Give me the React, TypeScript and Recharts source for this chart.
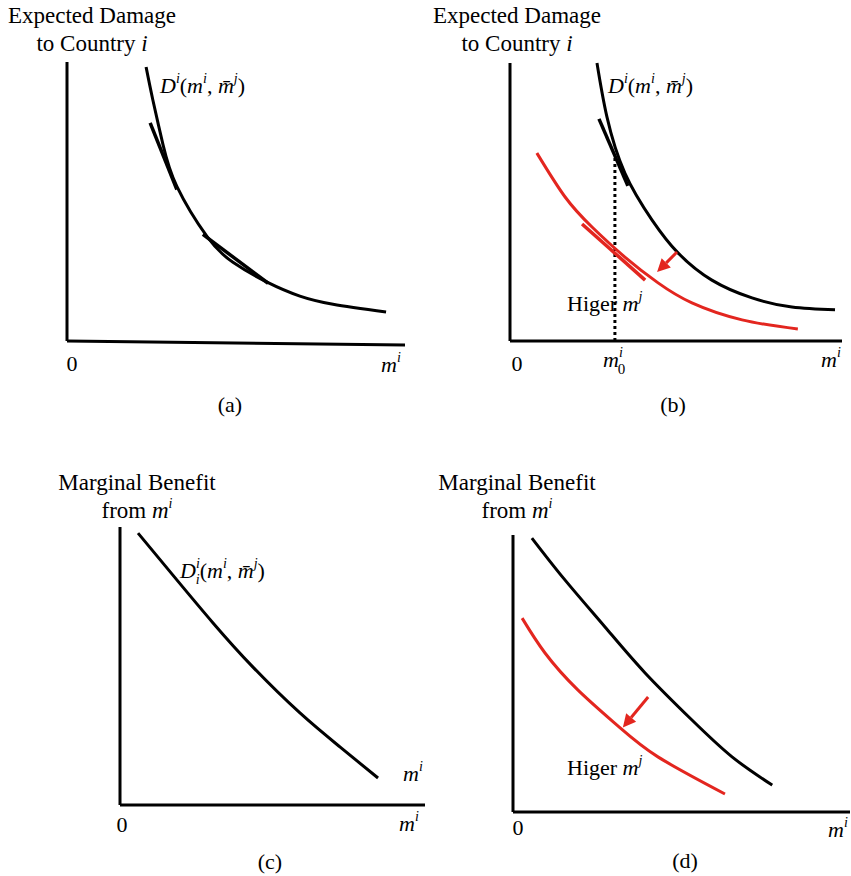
import React from "react";
import { LineChart, Line, XAxis, YAxis, ReferenceLine } from "recharts";

// all panels use the same 0..10 box on both axes

// (a) expected damage curve
const damageAX = [2.34, 2.54, 2.84, 3.25, 4.14, 4.91, 5.92, 6.89, 7.87, 9.44];
const damageAY = [9.82, 8.64, 7.04, 5.54, 3.75, 2.82, 2.11, 1.61, 1.32, 1.04];
// (a) two tangents [x1, y1, x2, y2]
const tangentA1 = [2.46, 7.82, 3.25, 5.43];
const tangentA2 = [4.02, 3.82, 5.95, 2.07];
const axisTiltA = -0.14;

// (b) baseline damage and shifted damage
const damageBX = [2.62, 2.92, 3.46, 4.28, 5.06, 6.08, 7.29, 8.49, 9.79];
const damageBY = [10.0, 8.06, 6.04, 4.35, 3.17, 2.19, 1.55, 1.22, 1.12];
const shiftedBX = [0.81, 1.66, 2.47, 3.46, 4.46, 5.48, 6.99, 8.67];
const shiftedBY = [6.76, 5.18, 4.1, 3.02, 2.09, 1.37, 0.76, 0.43];
const tangentB1 = [2.68, 7.99, 3.55, 5.58];
const tangentB2 = [2.17, 4.21, 4.07, 2.19];
const m0 = 3.16;
const m0Top = 6.62;
const arrowB = [5.03, 3.2, 4.43, 2.48];

// (c) marginal benefit
const benefitCX = [0.59, 1.87, 3.05, 4.36, 5.9, 7.21, 8.46];
const benefitCY = [9.78, 8.09, 6.55, 4.96, 3.31, 2.09, 0.97];

// (d) marginal benefit before / after
const benefitDX = [0.56, 1.54, 2.73, 3.92, 5.31, 6.5, 7.69];
const benefitDY = [9.89, 8.38, 6.68, 5.02, 3.32, 1.99, 0.97];
const shiftedDX = [0.27, 0.95, 1.93, 3.12, 4.3, 6.29];
const shiftedDY = [7.0, 5.74, 4.4, 3.1, 1.99, 0.65];
const arrowD = [4.01, 4.15, 3.26, 3.05];

const RED = "#e3261f";
const SERIF = "'Liberation Serif', 'Times New Roman', serif";
const PAD = 12;

const pts = (xs: number[], ys: number[]) => xs.map((x, i) => ({ x, y: ys[i] }));
const seg = (s: number[]) => [
  { x: s[0], y: s[1] },
  { x: s[2], y: s[3] },
];

type Frame = { left: number; bottom: number; w: number; h: number };

const frameA: Frame = { left: 67, bottom: 341, w: 338, h: 279 };
const frameB: Frame = { left: 510, bottom: 341, w: 332, h: 278 };
const frameC: Frame = { left: 120, bottom: 805, w: 305, h: 278 };
const frameD: Frame = { left: 513, bottom: 812, w: 337, h: 277 };

const arrowShape = (p: any) => {
  const { x1, y1, x2, y2 } = p;
  const a = Math.atan2(y2 - y1, x2 - x1);
  const L = 13;
  const W = 6.5;
  const bx = x2 - L * Math.cos(a);
  const by = y2 - L * Math.sin(a);
  const px = -Math.sin(a) * W;
  const py = Math.cos(a) * W;
  return (
    <g>
      <line x1={x1} y1={y1} x2={bx} y2={by} stroke={RED} strokeWidth={3} />
      <polygon points={`${x2},${y2} ${bx + px},${by + py} ${bx - px},${by - py}`} fill={RED} />
    </g>
  );
};

function Panel({ frame, tilt = 0, children }: { frame: Frame; tilt?: number; children?: React.ReactNode }) {
  return (
    <div style={{ position: "absolute", left: frame.left - PAD, top: frame.bottom - frame.h - PAD }}>
      <LineChart
        width={frame.w + 2 * PAD}
        height={frame.h + 2 * PAD}
        margin={{ top: PAD, right: PAD, bottom: PAD, left: PAD }}
      >
        <XAxis type="number" dataKey="x" domain={[0, 10]} hide />
        <YAxis type="number" dataKey="y" domain={[0, 10]} hide />
        <ReferenceLine
          segment={[
            { x: 0, y: 0 },
            { x: 0, y: 10 },
          ]}
          stroke="#000"
          strokeWidth={3}
          ifOverflow="visible"
        />
        <ReferenceLine
          segment={[
            { x: 0, y: 0 },
            { x: 10, y: tilt },
          ]}
          stroke="#000"
          strokeWidth={3}
          ifOverflow="visible"
        />
        {children}
      </LineChart>
    </div>
  );
}

const curve = (data: { x: number; y: number }[], color: string) => (
  <Line
    data={data}
    dataKey="y"
    type="natural"
    stroke={color}
    strokeWidth={3}
    dot={false}
    activeDot={false}
    isAnimationActive={false}
  />
);

const tangent = (s: number[], color: string) => (
  <ReferenceLine segment={seg(s)} stroke={color} strokeWidth={3.5} ifOverflow="visible" />
);

// m^i with italic m and small superscript
function MI({ x, y, sup = "i", sub }: { x: number; y: number; sup?: string; sub?: string }) {
  return (
    <text x={x} y={y} fontFamily={SERIF} fontSize={22}>
      <tspan fontStyle="italic">m</tspan>
      <tspan dy={-10} fontSize={14} fontStyle="italic">
        {sup}
      </tspan>
      {sub && (
        <tspan dx={-5} dy={17} fontSize={15}>
          {sub}
        </tspan>
      )}
    </text>
  );
}

function DLabel({ x, y, sub }: { x: number; y: number; sub?: boolean }) {
  return (
    <text x={x} y={y} fontFamily={SERIF} fontSize={22}>
      <tspan fontStyle="italic">D</tspan>
      <tspan dy={-10} fontSize={14} fontStyle="italic">
        i
      </tspan>
      {sub ? (
        <>
          <tspan dx={-4} dy={16} fontSize={14} fontStyle="italic">
            i
          </tspan>
          <tspan dy={-6}>(</tspan>
        </>
      ) : (
        <tspan dy={10}>(</tspan>
      )}
      <tspan fontStyle="italic">m</tspan>
      <tspan dy={-10} fontSize={14} fontStyle="italic">
        i
      </tspan>
      <tspan dy={10}>, </tspan>
      <tspan fontStyle="italic">m&#772;</tspan>
      <tspan dy={-10} fontSize={14} fontStyle="italic">
        j
      </tspan>
      <tspan dy={10}>)</tspan>
    </text>
  );
}

function Title({ x, y, top, rest, math }: { x: number; y: number; top: string; rest: string; math: "i" | "mi" }) {
  return (
    <g fontFamily={SERIF} fontSize={23} textAnchor="middle">
      <text x={x} y={y}>
        {top}
      </text>
      <text x={x} y={y + 28}>
        {rest}
        {math === "i" ? (
          <tspan fontStyle="italic"> i</tspan>
        ) : (
          <>
            <tspan fontStyle="italic"> m</tspan>
            <tspan dy={-10} fontSize={14} fontStyle="italic">
              i
            </tspan>
          </>
        )}
      </text>
    </g>
  );
}

function Higer({ x, y }: { x: number; y: number }) {
  return (
    <text x={x} y={y} fontFamily={SERIF} fontSize={22}>
      Higer <tspan fontStyle="italic">m</tspan>
      <tspan dy={-10} fontSize={14} fontStyle="italic">
        j
      </tspan>
    </text>
  );
}

function Txt({ x, y, children }: { x: number; y: number; children: React.ReactNode }) {
  return (
    <text x={x} y={y} fontFamily={SERIF} fontSize={22} textAnchor="middle">
      {children}
    </text>
  );
}

export default function App() {
  return (
    <div style={{ position: "absolute", left: 0, top: 0, width: 851, height: 876, background: "#fff" }}>
      <Panel frame={frameA} tilt={axisTiltA}>
        {curve(pts(damageAX, damageAY), "#000")}
        {tangent(tangentA1, "#000")}
        {tangent(tangentA2, "#000")}
      </Panel>

      <Panel frame={frameB}>
        <ReferenceLine
          segment={[
            { x: m0, y: 0 },
            { x: m0, y: m0Top },
          ]}
          stroke="#000"
          strokeWidth={3}
          strokeDasharray="3 3"
          ifOverflow="visible"
        />
        {curve(pts(damageBX, damageBY), "#000")}
        {curve(pts(shiftedBX, shiftedBY), RED)}
        {tangent(tangentB1, "#000")}
        {tangent(tangentB2, RED)}
        <ReferenceLine segment={seg(arrowB)} shape={arrowShape} ifOverflow="visible" />
      </Panel>

      <Panel frame={frameC}>{curve(pts(benefitCX, benefitCY), "#000")}</Panel>

      <Panel frame={frameD}>
        {curve(pts(benefitDX, benefitDY), "#000")}
        {curve(pts(shiftedDX, shiftedDY), RED)}
        <ReferenceLine segment={seg(arrowD)} shape={arrowShape} ifOverflow="visible" />
      </Panel>

      <svg
        width={851}
        height={876}
        style={{ position: "absolute", left: 0, top: 0, pointerEvents: "none" }}
      >
        <Title x={92} y={23} top="Expected Damage" rest="to Country" math="i" />
        <Title x={517} y={23} top="Expected Damage" rest="to Country" math="i" />
        <Title x={137} y={490} top="Marginal Benefit" rest="from" math="mi" />
        <Title x={517} y={490} top="Marginal Benefit" rest="from" math="mi" />

        <DLabel x={160} y={93} />
        <DLabel x={608} y={93} />
        <DLabel x={180} y={578} sub />

        <Higer x={567} y={311} />
        <Higer x={567} y={775} />

        <Txt x={72} y={371}>0</Txt>
        <MI x={381} y={372} />
        <Txt x={230} y={412}>(a)</Txt>

        <Txt x={517} y={371}>0</Txt>
        <MI x={603} y={367} sub="0" />
        <MI x={821} y={367} />
        <Txt x={673} y={412}>(b)</Txt>

        <Txt x={122} y={832}>0</Txt>
        <MI x={399} y={831} />
        <MI x={403} y={781} />
        <Txt x={270} y={869}>(c)</Txt>

        <Txt x={518} y={835}>0</Txt>
        <MI x={828} y={837} />
        <Txt x={685} y={868}>(d)</Txt>
      </svg>
    </div>
  );
}
